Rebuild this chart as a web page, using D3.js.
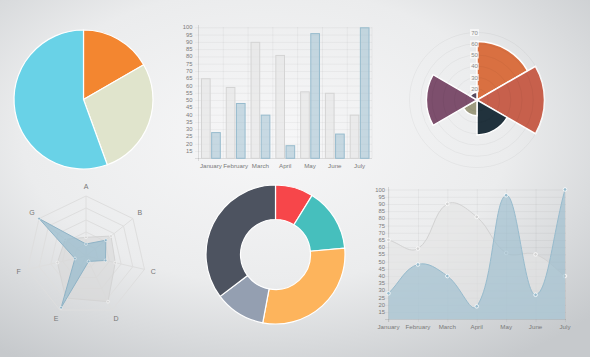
<!DOCTYPE html>
<html><head><meta charset="utf-8">
<script src="https://cdn.jsdelivr.net/npm/d3@7"></script>
<style>html,body{margin:0;padding:0;background:#e8e9ea;}svg{display:block;font-family:"Liberation Sans",Arial,sans-serif;}</style>
</head><body>
<svg id="c" width="590" height="357"></svg>
<script>
// ---------- data ----------
const months = ["January","February","March","April","May","June","July"];
const seriesGray = [65,59,90,81,56,55,40];
const seriesBlue = [28,48,40,19,96,27,100];
const yTickLabels = [15,20,25,30,35,40,45,50,55,60,65,70,75,80,85,90,95,100];

const pieValues = [30,50,100];
const pieColors = ["#F38630","#E0E4CC","#69D2E7"];

const doughnutValues = [30,50,100,40,120];
const doughnutColors = ["#F7464A","#46BFBD","#FDB45C","#949FB1","#4D5360"];

const polarValues = [62,70,41,24,55,17];
const polarColors = ["#D97041","#C7604C","#21323D","#9D9B7F","#7D4F6D","#584A5E"];
const polarTicks = [20,30,40,50,60,70];

const radarAxes = ["A","B","C","D","E","F","G"];
const radarGray = [38,58,55,86,80,54,50];
const radarBlue = [28,48,40,19,96,27,100];

// ---------- helpers ----------
const svg = d3.select("#c");
const defs = svg.append("defs");
const bg = defs.append("radialGradient").attr("id","bg").attr("cx","45%").attr("cy","38%").attr("r","75%");
bg.append("stop").attr("offset","0%").attr("stop-color","#f7f7f8");
bg.append("stop").attr("offset","55%").attr("stop-color","#ebeced");
bg.append("stop").attr("offset","100%").attr("stop-color","#c6c9cc");
svg.append("rect").attr("width",590).attr("height",357).attr("fill","url(#bg)");

const grayFill = "rgba(228,228,228,0.6)", grayStroke = "rgba(212,212,212,1)";
const blueFill = "rgba(151,187,205,0.5)", blueStroke = "rgba(151,187,205,1)";
const txt = "#7a7a7a";

// Chart.js v1-like spline curve
function ChartJsCurve(ctx, t, yMin, yMax){ this._context = ctx; this._t = t; this._yMin = yMin; this._yMax = yMax; }
ChartJsCurve.prototype = {
  areaStart(){ this._line = 0; },
  areaEnd(){ this._line = NaN; },
  lineStart(){ this._pts = []; },
  point(x,y){ this._pts.push([+x,+y]); },
  lineEnd(){
    const p = this._pts, c = this._context, n = p.length, t = this._t;
    if (n) {
      if (this._line) c.lineTo(p[0][0],p[0][1]); else c.moveTo(p[0][0],p[0][1]);
      const cps = p.map((pt,i) => {
        const a = i>0 ? p[i-1] : pt, b = i<n-1 ? p[i+1] : pt;
        const d01 = Math.hypot(pt[0]-a[0], pt[1]-a[1]), d12 = Math.hypot(b[0]-pt[0], b[1]-pt[1]);
        const s = d01 + d12 || 1;
        const fa = t*d01/s, fb = t*d12/s;
        const cl = v => Math.max(this._yMin, Math.min(this._yMax, v));
        return { prev:[pt[0]-fa*(b[0]-a[0]), cl(pt[1]-fa*(b[1]-a[1]))],
                 next:[pt[0]+fb*(b[0]-a[0]), cl(pt[1]+fb*(b[1]-a[1]))] };
      });
      for (let i=1;i<n;i++){
        c.bezierCurveTo(cps[i-1].next[0],cps[i-1].next[1],cps[i].prev[0],cps[i].prev[1],p[i][0],p[i][1]);
      }
    }
    if (this._line || (this._line !== 0 && n === 1)) c.closePath();
    this._line = 1 - this._line;
  }
};
const curveChartJs = (t,a,b) => ctx => new ChartJsCurve(ctx,t,a,b);

// ---------- 1. Pie ----------
{
  const g = svg.append("g").attr("transform","translate(83.5,99.5)");
  const arcs = d3.pie().sort(null)(pieValues);
  const arc = d3.arc().innerRadius(0).outerRadius(69.5);
  g.selectAll("path").data(arcs).join("path").attr("d",arc)
    .attr("fill",(d,i)=>pieColors[i]).attr("stroke","#fff").attr("stroke-width",1.2);
}

// ---------- 2. Bar ----------
{
  const y = d3.scaleLinear().domain([10,100]).range([158.3,27.3]);
  const x = d3.scaleBand().domain(months).range([198.5,372]).paddingInner(0.2).paddingOuter(0.1);
  const xs = d3.scaleBand().domain([0,1]).range([0,x.bandwidth()]).paddingInner(0.05);
  const g = svg.append("g");
  g.selectAll("line.h").data(yTickLabels).join("line").attr("class","h")
    .attr("x1",195).attr("x2",372).attr("y1",d=>y(d)+0.5).attr("y2",d=>y(d)+0.5)
    .attr("stroke","rgba(0,0,0,0.04)");
  g.selectAll("line.v").data(months).join("line").attr("class","v")
    .attr("x1",d=>x(d)-x.step()*x.paddingInner()/2+x.step()).attr("x2",d=>x(d)-x.step()*x.paddingInner()/2+x.step())
    .attr("y1",27).attr("y2",158.3).attr("stroke","rgba(0,0,0,0.04)");
  g.append("line").attr("x1",198.5).attr("x2",198.5).attr("y1",25).attr("y2",161).attr("stroke","rgba(0,0,0,0.1)");
  g.append("line").attr("x1",195).attr("x2",372).attr("y1",158.5).attr("y2",158.5).attr("stroke","rgba(0,0,0,0.1)");
  [seriesGray, seriesBlue].forEach((s,k)=>{
    g.selectAll("rect.s"+k).data(s).join("rect").attr("class","s"+k)
      .attr("x",(d,i)=>x(months[i])+xs(k)+0.5).attr("width",xs.bandwidth()-1)
      .attr("y",d=>y(d)+0.5).attr("height",d=>y(10)-y(d)-0.5)
      .attr("fill",k?blueFill:grayFill).attr("stroke",k?blueStroke:grayStroke).attr("stroke-width",1);
  });
  g.selectAll("text.y").data(yTickLabels).join("text").attr("class","y")
    .attr("x",192.5).attr("y",d=>y(d)).attr("dy","0.35em").attr("text-anchor","end")
    .attr("font-size",5.8).attr("fill",txt).text(d=>d);
  g.selectAll("text.x").data(months).join("text").attr("class","x")
    .attr("x",d=>x(d)+x.bandwidth()/2).attr("y",166).attr("dy","0.35em").attr("text-anchor","middle")
    .attr("font-size",6.2).attr("fill",txt).text(d=>d);
}

// ---------- 3. Polar area ----------
{
  const cx = 477, cy = 100;
  const r = d3.scaleLinear().domain([10,70]).range([0,67.5]);
  const g = svg.append("g").attr("transform",`translate(${cx},${cy})`);
  const step = 2*Math.PI/polarValues.length;
  const arc = d3.arc().innerRadius(0);
  g.selectAll("path").data(polarValues).join("path")
    .attr("d",(d,i)=>arc({outerRadius:r(d),startAngle:i*step,endAngle:(i+1)*step}))
    .attr("fill",(d,i)=>polarColors[i]).attr("stroke","#fff").attr("stroke-width",1.5);
  g.selectAll("circle").data(polarTicks).join("circle").attr("r",d=>r(d))
    .attr("fill","none").attr("stroke","rgba(0,0,0,0.04)");
  polarTicks.forEach(t=>{
    g.append("rect").attr("x",-7).attr("y",-r(t)-3.5).attr("width",9).attr("height",7).attr("fill","rgba(255,255,255,0.6)");
  });
  g.selectAll("text").data(polarTicks).join("text").attr("x",-2.5).attr("y",d=>-r(d)).attr("dy","0.35em")
    .attr("text-anchor","middle").attr("font-size",6).attr("fill","#8a8a8a").text(d=>d);
}

// ---------- 4. Radar ----------
{
  const cx = 86, cy = 256, R = 60;
  const r = d3.scaleLinear().domain([10,100]).range([0,R]);
  const n = radarAxes.length;
  const ang = i => -Math.PI/2 + i*2*Math.PI/n;
  const pt = (i,rad) => [rad*Math.cos(ang(i)), rad*Math.sin(ang(i))];
  const g = svg.append("g").attr("transform",`translate(${cx},${cy})`);
  const rings = [0.2,0.4,0.6,0.8,1];
  g.selectAll("polygon.ring").data(rings).join("polygon").attr("class","ring")
    .attr("points",f=>radarAxes.map((a,i)=>pt(i,f*R).join(",")).join(" "))
    .attr("fill","none").attr("stroke","#dedede").attr("stroke-width",1);
  g.selectAll("line.sp").data(radarAxes).join("line").attr("class","sp")
    .attr("x1",0).attr("y1",0).attr("x2",(d,i)=>pt(i,R)[0]).attr("y2",(d,i)=>pt(i,R)[1])
    .attr("stroke","#dedede");
  const lineR = d3.lineRadial().angle((d,i)=>i*2*Math.PI/n).radius(d=>r(d)).curve(d3.curveLinearClosed);
  [[radarGray,"rgba(215,215,215,0.55)","#d4d4d4"],[radarBlue,"rgba(151,187,205,0.72)","#8fb3c6"]].forEach(([s,f,st])=>{
    g.append("path").attr("d",lineR(s)).attr("fill",f).attr("stroke",st).attr("stroke-width",1);
    g.selectAll(null).data(s).join("circle").attr("cx",(d,i)=>pt(i,r(d))[0]).attr("cy",(d,i)=>pt(i,r(d))[1])
      .attr("r",1.4).attr("fill",st).attr("stroke","#fff").attr("stroke-width",0.5);
  });
  g.selectAll("text").data(radarAxes).join("text")
    .attr("x",(d,i)=>pt(i,R+9)[0]).attr("y",(d,i)=>pt(i,R+9)[1]).attr("dy","0.35em")
    .attr("text-anchor","middle").attr("font-size",7).attr("fill","#777").text(d=>d);
}

// ---------- 5. Doughnut ----------
{
  const g = svg.append("g").attr("transform","translate(275.5,254.5)");
  const arcs = d3.pie().sort(null)(doughnutValues);
  const arc = d3.arc().innerRadius(35).outerRadius(69.5);
  g.selectAll("path").data(arcs).join("path").attr("d",arc)
    .attr("fill",(d,i)=>doughnutColors[i]).attr("stroke","#fff").attr("stroke-width",1.2);
}

// ---------- 6. Line ----------
{
  const y = d3.scaleLinear().domain([10,100]).range([319.3,189.5]);
  const x = d3.scalePoint().domain(months).range([388.5,565]);
  const g = svg.append("g");
  g.selectAll("line.h").data(yTickLabels).join("line").attr("class","h")
    .attr("x1",385).attr("x2",566).attr("y1",d=>y(d)+0.5).attr("y2",d=>y(d)+0.5).attr("stroke","rgba(0,0,0,0.04)");
  g.selectAll("line.v").data(months).join("line").attr("class","v")
    .attr("x1",d=>x(d)+0.5).attr("x2",d=>x(d)+0.5).attr("y1",189).attr("y2",322).attr("stroke","rgba(0,0,0,0.04)");
  g.append("line").attr("x1",388.5).attr("x2",388.5).attr("y1",187).attr("y2",322).attr("stroke","rgba(0,0,0,0.1)");
  g.append("line").attr("x1",385).attr("x2",566).attr("y1",319.5).attr("y2",319.5).attr("stroke","rgba(0,0,0,0.1)");
  const curve = curveChartJs(0.4, 189.5, 319.3);
  const area = d3.area().x((d,i)=>x(months[i])).y0(y(10)).y1(d=>y(d)).curve(curve);
  const line = d3.line().x((d,i)=>x(months[i])).y(d=>y(d)).curve(curve);
  [[seriesGray,grayFill,"rgba(210,210,210,1)"],[seriesBlue,"rgba(151,187,205,0.62)",blueStroke]].forEach(([s,f,st])=>{
    g.append("path").attr("d",area(s)).attr("fill",f);
    g.append("path").attr("d",line(s)).attr("fill","none").attr("stroke",st).attr("stroke-width",1);
    g.selectAll(null).data(s).join("circle").attr("cx",(d,i)=>x(months[i])).attr("cy",d=>y(d))
      .attr("r",1.8).attr("fill",st).attr("stroke","#fff").attr("stroke-width",0.8);
  });
  g.selectAll("text.y").data(yTickLabels).join("text").attr("class","y")
    .attr("x",385).attr("y",d=>y(d)).attr("dy","0.35em").attr("text-anchor","end")
    .attr("font-size",5.8).attr("fill",txt).text(d=>d);
  g.selectAll("text.x").data(months).join("text").attr("class","x")
    .attr("x",d=>x(d)).attr("y",327).attr("dy","0.35em").attr("text-anchor","middle")
    .attr("font-size",6.2).attr("fill",txt).text(d=>d);
}
</script>
</body></html>
